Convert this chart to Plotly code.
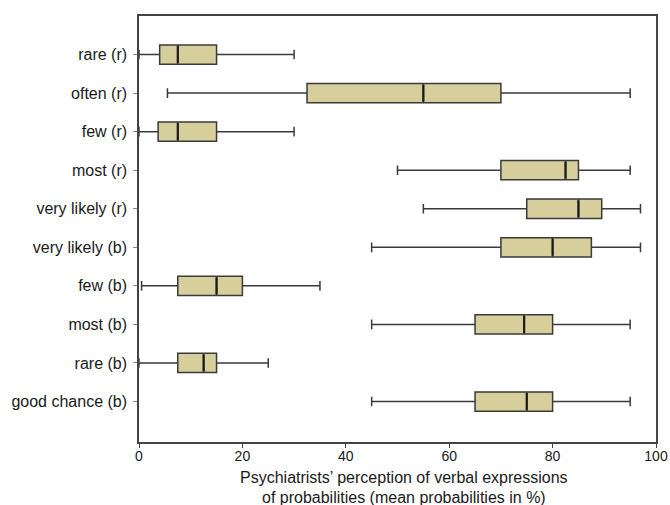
import plotly.graph_objects as go

categories = ["rare (r)", "often (r)", "few (r)", "most (r)", "very likely (r)",
              "very likely (b)", "few (b)", "most (b)", "rare (b)", "good chance (b)"]
lower = [0, 5.5, 0, 50, 55, 45, 0.5, 45, 0, 45]
q1 = [4, 32.5, 3.7, 70, 75, 70, 7.5, 65, 7.5, 65]
median = [7.5, 55, 7.5, 82.5, 85, 80, 15, 74.5, 12.5, 75]
q3 = [15, 70, 15, 85, 89.5, 87.5, 20, 80, 15, 80]
upper = [30, 95, 30, 95, 97, 97, 35, 95, 25, 95]
x_ticks = [0, 20, 40, 60, 80, 100]
title_lines = ["Psychiatrists’ perception of verbal expressions",
               "of probabilities (mean probabilities in %)"]

positions = list(range(len(categories)))
BOX_W = 0.5

fig = go.Figure()
for i, cat in enumerate(categories):
    fig.add_trace(go.Box(
        y=[positions[i]], orientation="h",
        q1=[q1[i]], median=[median[i]], q3=[q3[i]],
        lowerfence=[lower[i]], upperfence=[upper[i]],
        width=BOX_W, whiskerwidth=0.5,
        fillcolor="#d6cf9c",
        line=dict(color="#3a3a3a", width=1.5),
        name=cat, showlegend=False, hoverinfo="skip",
    ))

# thicker median lines
mx, my = [], []
for i in positions:
    mx += [median[i], median[i], None]
    my += [i - BOX_W / 2 + 0.03, i + BOX_W / 2 - 0.03, None]
fig.add_trace(go.Scatter(x=mx, y=my, mode="lines",
                         line=dict(color="#1a1a1a", width=2.2),
                         showlegend=False, hoverinfo="skip"))

FONT = "Liberation Sans, Arial, sans-serif"
fig.update_layout(
    width=670, height=505,
    margin=dict(l=139, r=14, t=16, b=63, autoexpand=False),
    paper_bgcolor="white", plot_bgcolor="white",
    font=dict(family=FONT, size=13, color="#1a1a1a"),
    xaxis=dict(
        range=[0, 100], tickvals=x_ticks, ticktext=[str(t) for t in x_ticks],
        showgrid=False, zeroline=False, automargin=False,
        showline=True, linecolor="#444", linewidth=1.5, mirror=True,
        ticks="outside", ticklen=4, tickcolor="#444",
        tickfont=dict(size=14), ticklabelstandoff=-4,
    ),
    yaxis=dict(
        range=[10.05, -1.0], tickvals=positions, ticktext=categories,
        showgrid=False, zeroline=False, automargin=False,
        showline=True, linecolor="#444", linewidth=1.5, mirror=True,
        ticks="outside", ticklen=4, tickcolor="#888",
        tickfont=dict(size=16), ticklabelstandoff=3,
    ),
    annotations=[
        dict(text=title_lines[0], xref="paper", yref="paper", x=0.5, y=0,
             xanchor="center", yanchor="middle", xshift=6, yshift=-35,
             showarrow=False, font=dict(size=16, family=FONT)),
        dict(text=title_lines[1], xref="paper", yref="paper", x=0.5, y=0,
             xanchor="center", yanchor="middle", xshift=6, yshift=-55,
             showarrow=False, font=dict(size=16, family=FONT)),
    ],
)

fig.write_html("out.html", config={"displayModeBar": False},
               post_script="document.body.style.margin='0';document.body.style.overflow='hidden';")
